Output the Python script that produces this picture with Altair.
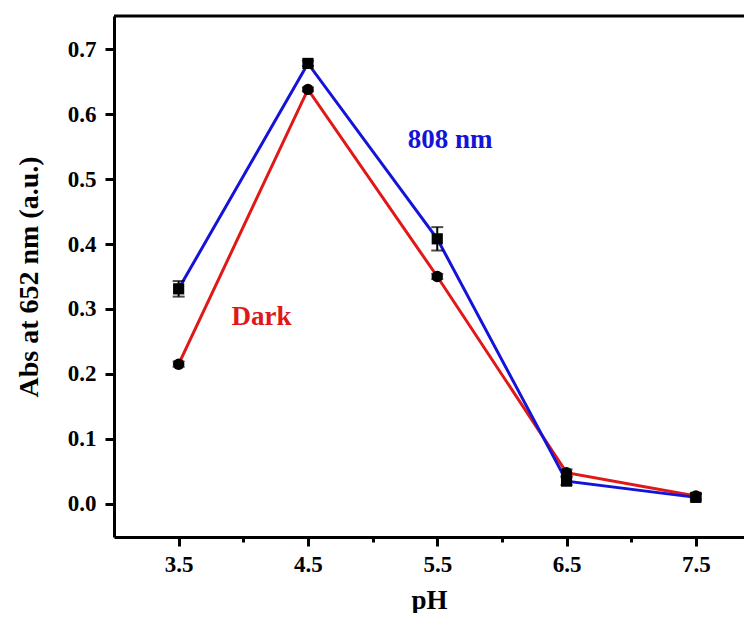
import altair as alt
import pandas as pd

# ---- data ----
ph = [3.5, 4.5, 5.5, 6.5, 7.5]
abs_808 = [0.331, 0.678, 0.408, 0.035, 0.010]
err_808 = [0.012, 0.004, 0.018, 0.006, 0.005]
abs_dark = [0.215, 0.638, 0.350, 0.048, 0.012]
err_dark = [0.004, 0.003, 0.004, 0.005, 0.004]

x_ticks = [3.5, 4.0, 4.5, 5.0, 5.5, 6.0, 6.5, 7.0, 7.5]
y_ticks = [0.0, 0.05, 0.1, 0.15, 0.2, 0.25, 0.3, 0.35, 0.4, 0.45, 0.5, 0.55, 0.6, 0.65, 0.7]

labels = ["808 nm", "Dark"]
label_x = [5.60, 4.14]
label_y = [0.56, 0.288]
label_colors = ["#1414d8", "#e01818"]

BLUE = "#1414d8"
RED = "#e01818"
FONT = "Liberation Serif"
W, H = 630, 521

df808 = pd.DataFrame({"ph": ph, "v": abs_808, "lo": [a - e for a, e in zip(abs_808, err_808)],
                      "hi": [a + e for a, e in zip(abs_808, err_808)]})
dfd = pd.DataFrame({"ph": ph, "v": abs_dark, "lo": [a - e for a, e in zip(abs_dark, err_dark)],
                    "hi": [a + e for a, e in zip(abs_dark, err_dark)]})
dflab = pd.DataFrame({"t": labels, "x": label_x, "y": label_y, "c": label_colors})

xscale = alt.Scale(domain=[3.0, 3.0 + W / 129.3], nice=False, zero=False)
yscale = alt.Scale(domain=[-0.051, 0.751], nice=False, zero=False)

xaxis = alt.Axis(
    values=x_ticks, title="pH", grid=False,
    labelExpr="(round(datum.value*2) % 2 == 1) ? format(datum.value, '.1f') : ''",
    tickSize={"condition": {"test": "round(datum.value*2) % 2 == 1", "value": 9}, "value": 5},
    tickWidth=3, tickColor="black", domainWidth=3, domainColor="black",
    labelFont=FONT, labelFontWeight="bold", labelFontSize=23, labelColor="black", labelPadding=7,
    titleFont=FONT, titleFontWeight="bold", titleFontSize=27, titleColor="black", titlePadding=11,
)
yaxis = alt.Axis(
    values=y_ticks, title="Abs at 652 nm (a.u.)", grid=False,
    labelExpr="abs(datum.value*10 - round(datum.value*10)) < 0.001 ? format(datum.value, '.1f') : ''",
    tickSize={"condition": {"test": "abs(datum.value*10 - round(datum.value*10)) < 0.001", "value": 9}, "value": 5},
    tickWidth=3, tickColor="black", domainWidth=3, domainColor="black",
    labelFont=FONT, labelFontWeight="bold", labelFontSize=23, labelColor="black", labelPadding=9,
    titleFont=FONT, titleFontWeight="bold", titleFontSize=28, titleColor="black", titlePadding=24,
)

X = alt.X("ph:Q", scale=xscale, axis=xaxis)
Y = alt.Y("v:Q", scale=yscale, axis=yaxis)

def series(df, color, shape, size):
    base = alt.Chart(df)
    line = base.mark_line(color=color, strokeWidth=3).encode(x=X, y=Y)
    err = base.mark_rule(color="black", strokeWidth=2).encode(x="ph:Q", y="lo:Q", y2="hi:Q")
    cap_lo = base.mark_tick(color="black", orient="horizontal", size=12, thickness=2).encode(x="ph:Q", y="lo:Q")
    cap_hi = base.mark_tick(color="black", orient="horizontal", size=12, thickness=2).encode(x="ph:Q", y="hi:Q")
    pts = base.mark_point(shape=shape, filled=True, color="black", size=size, opacity=1).encode(x="ph:Q", y="v:Q")
    return line, err, cap_lo, cap_hi, pts

r = series(dfd, RED, "circle", 130)
b = series(df808, BLUE, "square", 125)

texts = alt.Chart(dflab).mark_text(font=FONT, fontWeight="bold", fontSize=27, baseline="middle", align="center").encode(
    x="x:Q", y="y:Q", text="t:N", color=alt.Color("c:N", scale=None))

top = alt.Chart(pd.DataFrame({"a": [0]})).mark_rule(color="black", strokeWidth=3).encode(
    x=alt.value(0), x2=alt.value(W), y=alt.value(0))

chart = alt.layer(r[0], b[0], r[1], r[2], r[3], b[1], b[2], b[3], r[4], b[4], texts, top).properties(
    width=W, height=H,
    autosize=alt.AutoSizeParams(type="none"),
    padding={"left": 106, "top": 8, "right": 0, "bottom": 76},
    background="white",
).configure_view(stroke=None)

chart.save("out.html", embed_options={"renderer": "svg", "actions": False})
